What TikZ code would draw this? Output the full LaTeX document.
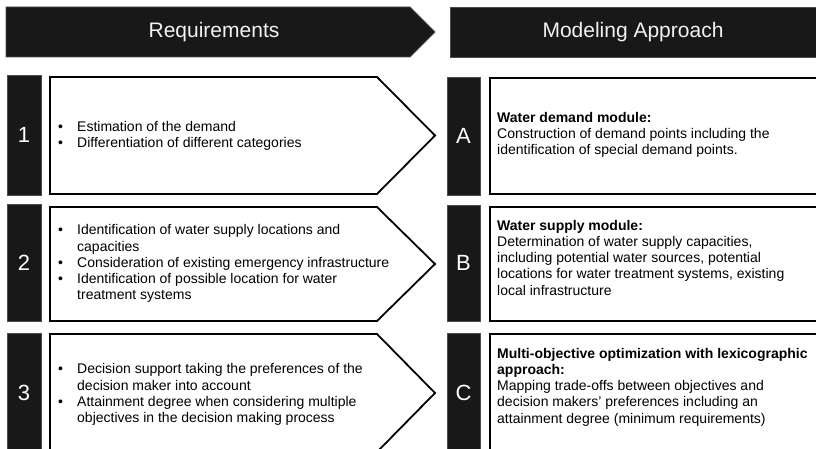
\documentclass[tikz,border=0pt]{standalone}
\usepackage{fontspec}
\setmainfont{Liberation Sans}
\definecolor{tabblack}{HTML}{181818}
\tikzset{
  blackbar/.style={fill=tabblack, draw=black!70, line width=0.8pt},
  whitebox/.style={fill=white, draw=black, line width=1.8pt, line join=miter},
  headtext/.style={text=white!95!black, font=\fontsize{21}{24}\selectfont, inner sep=0pt},
  tabtext/.style={text=white, font=\fontsize{22}{24}\selectfont, inner sep=0pt},
  bodytext/.style={font=\fontsize{14}{16.25}\selectfont, align=left, inner sep=0pt, anchor=west},
}
\newcommand{\bul}{\textbullet}
\begin{document}
\begin{tikzpicture}[x=1pt,y=-1pt]
\useasboundingbox (0,0) rectangle (816,449);
\clip (0,0) rectangle (816,449);
% headers
\draw[blackbar] (6,7) -- (410,7) -- (435,32) -- (410,57) -- (6,57) -- cycle;
\node[headtext] (hreq) at (214,32) {Requirements};
\draw[blackbar] (450,7) rectangle (840,57);
\node[headtext] (happ) at (633,32) {Modeling Approach};
% row 1
\draw[blackbar] (7,75) rectangle (41,195);
\node[tabtext] (t1) at (24,135) {1};
\draw[whitebox] (50,77) -- (377,77) -- (435,135.5) -- (377,194) -- (50,194) -- cycle;
\node[bodytext] (r1) at (58,136.5) {\begin{tabular}{@{}p{19pt}@{}l@{}}
\bul & Estimation of the demand\\
\bul & Differentiation of different categories
\end{tabular}};
\draw[blackbar] (447,77) rectangle (480,195);
\node[tabtext] (tA) at (463.5,136) {A};
\draw[whitebox] (490,78) rectangle (840,194);
\node[bodytext] (mA) at (497,135) {\textbf{Water demand module:}\\
Construction of demand points including the\\
identification of special demand points.};
% row 2
\draw[blackbar] (7,204) rectangle (41,321);
\node[tabtext] (t2) at (24,263) {2};
\draw[whitebox] (50,207) -- (377,207) -- (435,264) -- (377,321) -- (50,321) -- cycle;
\node[bodytext] (r2) at (58,264) {\begin{tabular}{@{}p{19pt}@{}l@{}}
\bul & Identification of water supply locations and\\
 & capacities\\
\bul & Consideration of existing emergency infrastructure\\
\bul & Identification of possible location for water\\
 & treatment systems
\end{tabular}};
\draw[blackbar] (447,205) rectangle (480,321);
\node[tabtext] (tB) at (463.5,263) {B};
\draw[whitebox] (490,207) rectangle (840,321);
\node[bodytext] (mB) at (497,257.5) {\textbf{Water supply module:}\\
Determination of water supply capacities,\\
including potential water sources, potential\\
locations for water treatment systems, existing\\
local infrastructure};
% row 3
\draw[blackbar] (7,333) rectangle (41,470);
\node[tabtext] (t3) at (24,393) {3};
\draw[whitebox] (50,334) -- (377,334) -- (435,393) -- (377,452) -- (50,452) -- cycle;
\node[bodytext] (r3) at (58,395) {\begin{tabular}{@{}p{19pt}@{}l@{}}
\bul & Decision support taking the preferences of the\\
 & decision maker into account\\
\bul & Attainment degree when considering multiple\\
 & objectives in the decision making process
\end{tabular}};
\draw[blackbar] (447,333) rectangle (480,470);
\node[tabtext] (tC) at (463.5,393) {C};
\draw[whitebox] (490,334) rectangle (840,470);
\node[bodytext] (mC) at (497,387) {\textbf{Multi-objective optimization with lexicographic}\\
\textbf{approach:}\\
Mapping trade-offs between objectives and\\
decision makers’ preferences including an\\
attainment degree (minimum requirements)};
\end{tikzpicture}
\end{document}
